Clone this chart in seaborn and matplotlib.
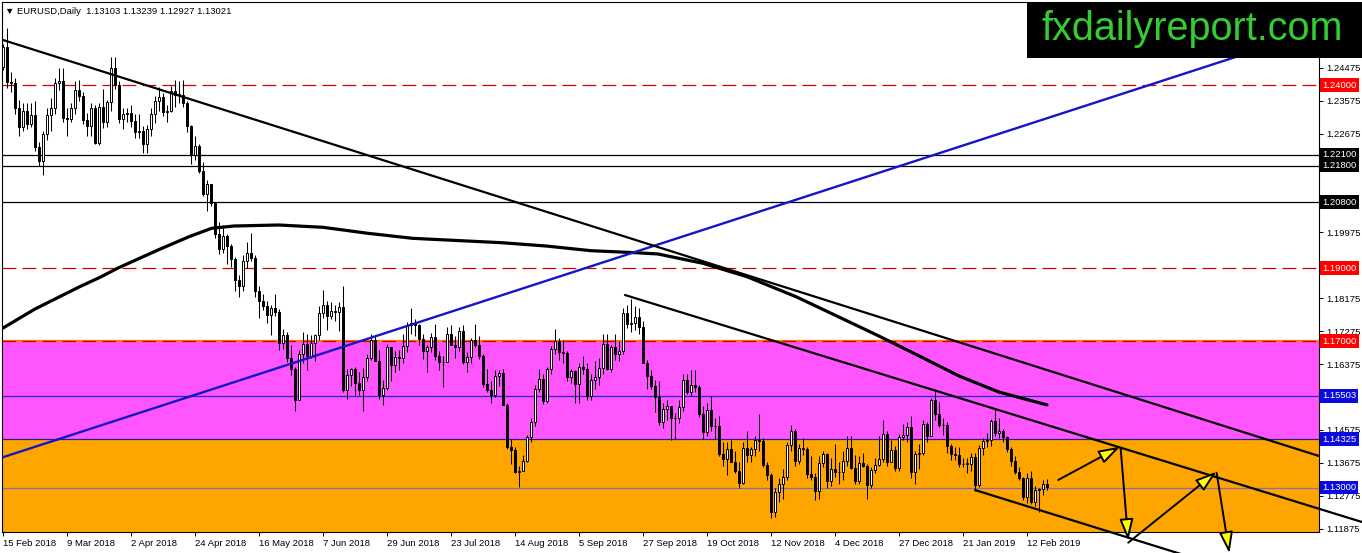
import numpy as np
import matplotlib
matplotlib.use("Agg")
import matplotlib.pyplot as plt
from matplotlib.patches import Rectangle
import matplotlib.transforms as mtransforms
import seaborn as sns

# ---------------- data ----------------
symbol = "EURUSD,Daily"
first_open = 1.2449

close = [
    1.2505, 1.2407, 1.2406, 1.2337, 1.2284, 1.2330, 1.2294, 1.2317, 1.2230, 1.2193,
    1.2267, 1.2318, 1.2337, 1.2405, 1.2410, 1.2311, 1.2306, 1.2336, 1.2387, 1.2370,
    1.2304, 1.2288, 1.2336, 1.2241, 1.2340, 1.2300, 1.2353, 1.2446, 1.2400, 1.2308,
    1.2320, 1.2323, 1.2301, 1.2272, 1.2275, 1.2239, 1.2280, 1.2320, 1.2357, 1.2368,
    1.2326, 1.2330, 1.2383, 1.2373, 1.2373, 1.2350, 1.2287, 1.2210, 1.2232, 1.2165,
    1.2103, 1.2130, 1.2078, 1.1992, 1.1951, 1.1988, 1.1960, 1.1924, 1.1866, 1.1851,
    1.1918, 1.1942, 1.1926, 1.1836, 1.1810, 1.1795, 1.1771, 1.1792, 1.1781, 1.1695,
    1.1718, 1.1653, 1.1623, 1.1539, 1.1665, 1.1693, 1.1659, 1.1696, 1.1717, 1.1776,
    1.1799, 1.1768, 1.1782, 1.1779, 1.1793, 1.1568, 1.1609, 1.1624, 1.1587, 1.1568,
    1.1601, 1.1655, 1.1702, 1.1646, 1.1553, 1.1571, 1.1684, 1.1634, 1.1656, 1.1654,
    1.1687, 1.1744, 1.1749, 1.1743, 1.1706, 1.1672, 1.1684, 1.1711, 1.1660, 1.1642,
    1.1643, 1.1719, 1.1690, 1.1684, 1.1728, 1.1642, 1.1656, 1.1703, 1.1690, 1.1660,
    1.1583, 1.1566, 1.1553, 1.1606, 1.1612, 1.1526, 1.1412, 1.1404, 1.1343, 1.1345,
    1.1374, 1.1438, 1.1478, 1.1570, 1.1597, 1.1537, 1.1623, 1.1679, 1.1700, 1.1671,
    1.1669, 1.1601, 1.1619, 1.1583, 1.1630, 1.1625, 1.1550, 1.1594, 1.1602, 1.1626,
    1.1691, 1.1625, 1.1683, 1.1666, 1.1673, 1.1776, 1.1746, 1.1750, 1.1765, 1.1739,
    1.1640, 1.1605, 1.1577, 1.1547, 1.1478, 1.1515, 1.1524, 1.1490, 1.1489, 1.1520,
    1.1594, 1.1560, 1.1579, 1.1575, 1.1502, 1.1452, 1.1511, 1.1467, 1.1468, 1.1391,
    1.1378, 1.1405, 1.1371, 1.1346, 1.1313, 1.1409, 1.1388, 1.1406, 1.1431, 1.1428,
    1.1362, 1.1335, 1.1233, 1.1289, 1.1310, 1.1330, 1.1416, 1.1455, 1.1372, 1.1409,
    1.1405, 1.1337, 1.1328, 1.1290, 1.1368, 1.1392, 1.1317, 1.1350, 1.1342, 1.1343,
    1.1374, 1.1407, 1.1353, 1.1317, 1.1368, 1.1360, 1.1306, 1.1348, 1.1361, 1.1377,
    1.1446, 1.1370, 1.1403, 1.1353, 1.1437, 1.1443, 1.1466, 1.1343, 1.1392, 1.1395,
    1.1475, 1.1441, 1.1540, 1.1500, 1.1470, 1.1470, 1.1413, 1.1392, 1.1390, 1.1364,
    1.1365, 1.1365, 1.1383, 1.1306, 1.1407, 1.1427, 1.1430, 1.1483, 1.1448, 1.1455,
    1.1437, 1.1405, 1.1373, 1.1342, 1.1326, 1.1275, 1.1325, 1.1262, 1.1294, 1.1295,
    1.13103, 1.13021,
]

high = [
    1.2513, 1.2555, 1.2435, 1.2418, 1.2360, 1.2350, 1.2352, 1.2350, 1.2355, 1.2245,
    1.2273, 1.2336, 1.2365, 1.2420, 1.2446, 1.2446, 1.2336, 1.2350, 1.2410, 1.2413,
    1.2380, 1.2324, 1.2352, 1.2345, 1.2350, 1.2388, 1.2359, 1.2476, 1.2476, 1.2412,
    1.2338, 1.2336, 1.2345, 1.2322, 1.2321, 1.2288, 1.2292, 1.2337, 1.2370, 1.2395,
    1.2377, 1.2345, 1.2396, 1.2414, 1.2410, 1.2414, 1.2357, 1.2292, 1.2260, 1.2240,
    1.2190, 1.2140, 1.2130, 1.2080, 1.2025, 1.2018, 1.1993, 1.1965, 1.1930, 1.1880,
    1.1935, 1.1970, 1.1997, 1.1935, 1.1850, 1.1830, 1.1810, 1.1798, 1.1830, 1.1787,
    1.1734, 1.1724, 1.1690, 1.1630, 1.1675, 1.1724, 1.1720, 1.1717, 1.1720, 1.1796,
    1.1840, 1.1810, 1.1806, 1.1800, 1.1806, 1.1852, 1.1625, 1.1626, 1.1630, 1.1615,
    1.1628, 1.1666, 1.1719, 1.1717, 1.1677, 1.1595, 1.1692, 1.1677, 1.1673, 1.1676,
    1.1720, 1.1753, 1.1791, 1.1760, 1.1746, 1.1719, 1.1690, 1.1722, 1.1746, 1.1672,
    1.1660, 1.1740, 1.1745, 1.1715, 1.1738, 1.1745, 1.1670, 1.1710, 1.1747, 1.1715,
    1.1666, 1.1625, 1.1590, 1.1620, 1.1620, 1.1625, 1.1530, 1.1432, 1.1410, 1.1360,
    1.1390, 1.1445, 1.1490, 1.1580, 1.1623, 1.1610, 1.1630, 1.1688, 1.1733, 1.1709,
    1.1702, 1.1674, 1.1625, 1.1620, 1.1640, 1.1660, 1.1640, 1.1610, 1.1645, 1.1655,
    1.1720, 1.1720, 1.1690, 1.1720, 1.1700, 1.1790, 1.1800, 1.1815, 1.1795, 1.1790,
    1.1754, 1.1650, 1.1622, 1.1595, 1.1590, 1.1530, 1.1540, 1.1510, 1.1505, 1.1540,
    1.1610, 1.1610, 1.1620, 1.1620, 1.1580, 1.1522, 1.1530, 1.1550, 1.1490, 1.1495,
    1.1425, 1.1425, 1.1430, 1.1400, 1.1370, 1.1425, 1.1455, 1.1410, 1.1440, 1.1500,
    1.1435, 1.1370, 1.1340, 1.1300, 1.1325, 1.1350, 1.1425, 1.1470, 1.1460, 1.1420,
    1.1435, 1.1410, 1.1385, 1.1340, 1.1385, 1.1400, 1.1395, 1.1380, 1.1420, 1.1370,
    1.1400, 1.1440, 1.1440, 1.1390, 1.1385, 1.1395, 1.1365, 1.1355, 1.1380, 1.1440,
    1.1485, 1.1455, 1.1430, 1.1415, 1.1447, 1.1475, 1.1480, 1.1497, 1.1400, 1.1420,
    1.1485, 1.1480, 1.1545, 1.1570, 1.1535, 1.1490, 1.1480, 1.1420, 1.1410, 1.1410,
    1.1380, 1.1380, 1.1395, 1.1395, 1.1417, 1.1435, 1.1450, 1.1488, 1.1514, 1.1490,
    1.1460, 1.1440, 1.1410, 1.1385, 1.1355, 1.1330, 1.1340, 1.1345, 1.1305, 1.1300,
    1.1320, 1.13239,
]

low = [
    1.2440, 1.2392, 1.2380, 1.2320, 1.2260, 1.2275, 1.2281, 1.2286, 1.2220, 1.2178,
    1.2155, 1.2250, 1.2273, 1.2320, 1.2385, 1.2300, 1.2260, 1.2300, 1.2320, 1.2356,
    1.2294, 1.2260, 1.2260, 1.2238, 1.2236, 1.2283, 1.2285, 1.2330, 1.2388, 1.2296,
    1.2280, 1.2300, 1.2285, 1.2254, 1.2255, 1.2215, 1.2213, 1.2260, 1.2295, 1.2330,
    1.2314, 1.2300, 1.2325, 1.2340, 1.2352, 1.2340, 1.2272, 1.2183, 1.2194, 1.2160,
    1.2096, 1.2055, 1.2070, 1.1983, 1.1938, 1.1941, 1.1910, 1.1902, 1.1838, 1.1822,
    1.1838, 1.1900, 1.1920, 1.1820, 1.1763, 1.1785, 1.1750, 1.1717, 1.1770, 1.1676,
    1.1680, 1.1644, 1.1608, 1.1510, 1.1538, 1.1640, 1.1620, 1.1655, 1.1645, 1.1703,
    1.1763, 1.1730, 1.1760, 1.1755, 1.1727, 1.1562, 1.1542, 1.1577, 1.1553, 1.1552,
    1.1509, 1.1590, 1.1648, 1.1646, 1.1543, 1.1526, 1.1566, 1.1590, 1.1615, 1.1620,
    1.1640, 1.1670, 1.1720, 1.1715, 1.1690, 1.1652, 1.1615, 1.1670, 1.1648, 1.1621,
    1.1575, 1.1643, 1.1690, 1.1655, 1.1673, 1.1637, 1.1615, 1.1640, 1.1684, 1.1652,
    1.1576, 1.1562, 1.1530, 1.1548, 1.1578, 1.1525, 1.1405, 1.1365, 1.1340, 1.1301,
    1.1345, 1.1371, 1.1425, 1.1468, 1.1560, 1.1528, 1.1530, 1.1610, 1.1665, 1.1650,
    1.1640, 1.1590, 1.1585, 1.1530, 1.1532, 1.1610, 1.1540, 1.1540, 1.1570, 1.1580,
    1.1610, 1.1620, 1.1615, 1.1650, 1.1645, 1.1665, 1.1735, 1.1725, 1.1730, 1.1720,
    1.1640, 1.1570, 1.1570, 1.1506, 1.1472, 1.1464, 1.1485, 1.1430, 1.1432, 1.1476,
    1.1510, 1.1555, 1.1550, 1.1560, 1.1494, 1.1432, 1.1440, 1.1456, 1.1432, 1.1387,
    1.1360, 1.1335, 1.1370, 1.1340, 1.1300, 1.1310, 1.1370, 1.1370, 1.1385, 1.1400,
    1.1355, 1.1320, 1.1216, 1.1220, 1.1260, 1.1270, 1.1320, 1.1400, 1.1360, 1.1365,
    1.1390, 1.1325, 1.1320, 1.1267, 1.1270, 1.1355, 1.1300, 1.1305, 1.1330, 1.1310,
    1.1320, 1.1360, 1.1350, 1.1310, 1.1310, 1.1355, 1.1270, 1.1300, 1.1340, 1.1360,
    1.1370, 1.1360, 1.1370, 1.1345, 1.1345, 1.1430, 1.1425, 1.1325, 1.1310, 1.1350,
    1.1390, 1.1425, 1.1440, 1.1485, 1.1465, 1.1445, 1.1395, 1.1375, 1.1375, 1.1355,
    1.1355, 1.1340, 1.1345, 1.1290, 1.1303, 1.1390, 1.1410, 1.1415, 1.1440, 1.1435,
    1.1425, 1.1397, 1.1360, 1.1338, 1.1320, 1.1265, 1.1258, 1.1255, 1.1250, 1.1234,
    1.1280, 1.12927,
]

# 200-day moving average read at bar positions
ma_bar = [0, 8, 19, 24.25, 28.75, 38.75, 46.5, 52.15, 57.75, 68.9, 80, 91.25, 102.4,
          124.75, 135.75, 147, 158.25, 163.75, 175, 186, 198.25, 209, 219, 229, 239,
          249, 261]
ma_val = [1.1736, 1.1788, 1.1848, 1.18746, 1.19000, 1.19492, 1.19855, 1.20085, 1.20148,
          1.20175, 1.20112, 1.19948, 1.19811, 1.19691, 1.19601, 1.19473, 1.19418,
          1.19383, 1.19128, 1.18762, 1.18216, 1.1766, 1.1714, 1.1660, 1.1605, 1.1561,
          1.1526]

date_labels = ["15 Feb 2018", "9 Mar 2018", "2 Apr 2018", "24 Apr 2018", "16 May 2018",
               "7 Jun 2018", "29 Jun 2018", "23 Jul 2018", "14 Aug 2018", "5 Sep 2018",
               "27 Sep 2018", "19 Oct 2018", "12 Nov 2018", "4 Dec 2018", "27 Dec 2018",
               "21 Jan 2019", "12 Feb 2019"]
bars_per_label = 16

price_ticks = [1.11875, 1.12775, 1.13675, 1.14575, 1.15475, 1.16375, 1.17275, 1.18175,
               1.19075, 1.19975, 1.20875, 1.21775, 1.22675, 1.23575, 1.24475]
hidden_ticks = [1.15475, 1.19075, 1.20875, 1.21775]   # covered by level boxes

# horizontal levels
red_levels = [1.24000, 1.19000, 1.17000]
black_levels = [1.22100, 1.21800, 1.20800]
blue_levels = [1.15503, 1.14325, 1.13000]

zone_magenta = (1.14325, 1.17000)
zone_orange_top = 1.14325

# trend lines (bar index, price)
long_down = [(0, 1.25230), (329, 1.13863)]
blue_up = [(0, 1.13831), (329, 1.25505)]
channel_top = [(155.5, 1.18262), (339.75, 1.12060)]
channel_bottom = [(243, 1.12934), (300, 1.10998)]

# projected path arrows (start bar, start price, end bar, end price)
arrows = [
    (263.8, 1.13208, 279.25, 1.14118),
    (279.4, 1.14090, 281.3, 1.11557),
    (281.3, 1.11495, 303.4, 1.13435),
    (303.4, 1.13407, 306.6, 1.11205),
]

# ---------------- figure ----------------
sns.set_theme(style="white")
plt.rcParams['font.family'] = ['Liberation Sans', 'DejaVu Sans']

W, H = 1362, 553
fig = plt.figure(figsize=(W / 100, H / 100), dpi=100)
fig.patch.set_facecolor('white')
ax = fig.add_axes([2 / W, (H - 532) / H, (1319 - 2) / W, (532 - 2) / H])
ax.set_facecolor('white')

YMIN, YMAX = 1.11787, 1.26268
ax.set_xlim(-0.25, 329)
ax.set_ylim(YMIN, YMAX)

# zones
ax.axhspan(zone_magenta[0], zone_magenta[1], color='#FF55FF', lw=0, zorder=0)
ax.axhspan(YMIN - 0.01, zone_orange_top, color='#FFA500', lw=0, zorder=0)

# level lines
for p in black_levels:
    ax.axhline(p, color='black', lw=0.9, zorder=1)
ax.axhline(blue_levels[0], color='#2424D8', lw=0.9, zorder=1)
ax.axhline(blue_levels[1], color='#23238F', lw=0.9, zorder=1)
ax.axhline(blue_levels[2], color='#8070B8', lw=0.9, zorder=1)
ax.axhline(red_levels[2], color='#FF7A00', lw=1.6, zorder=1)
for p in red_levels:
    ax.axhline(p, color='#D40000', lw=0.9, dashes=(11, 5), zorder=1.2)

# candles
c = np.array(close)
o = np.array([first_open] + close[:-1])
hi = np.maximum(np.array(high), np.maximum(o, c))
lo = np.minimum(np.array(low), np.minimum(o, c))
idx = np.arange(len(c))
up = c >= o
ax.vlines(idx, lo, hi, color='black', lw=0.75, zorder=3)
bottom = np.minimum(o, c)
height = np.maximum(np.abs(c - o), 0.00012)
ax.bar(idx[up], height[up], bottom=bottom[up], width=0.55, color='white',
       edgecolor='black', linewidth=0.7, zorder=4)
ax.bar(idx[~up], height[~up], bottom=bottom[~up], width=0.55, color='black',
       edgecolor='black', linewidth=0.7, zorder=4)

# moving average
sns.lineplot(x=ma_bar, y=ma_val, ax=ax, color='black', lw=2.3, sort=False,
             estimator=None, zorder=5)

# trend lines
ax.plot([p[0] for p in blue_up], [p[1] for p in blue_up], color='#1515C8', lw=1.7, zorder=5)
ax.plot([p[0] for p in long_down], [p[1] for p in long_down], color='black', lw=1.6, zorder=5)
ax.plot([p[0] for p in channel_top], [p[1] for p in channel_top], color='black', lw=1.6,
        zorder=5, clip_on=False)
ax.plot([p[0] for p in channel_bottom], [p[1] for p in channel_bottom], color='black', lw=1.6,
        zorder=5, clip_on=False)

# arrows
for x0, y0, x1, y1 in arrows:
    ax.annotate('', xy=(x1, y1), xytext=(x0, y0), annotation_clip=False, zorder=7,
                arrowprops=dict(arrowstyle='-|>,head_length=1.3,head_width=0.42',
                                mutation_scale=10, fc='#FFFF00', ec='black', lw=1.4,
                                shrinkA=0, shrinkB=0, clip_on=False))

# axes styling
for s in ax.spines.values():
    s.set_color('black')
    s.set_linewidth(0.8)
ax.grid(False)
ax.yaxis.tick_right()
ax.set_yticks(price_ticks)
ax.set_yticklabels(["" if t in hidden_ticks else f"{t:.5f}" for t in price_ticks])
ax.set_xticks([i * bars_per_label for i in range(len(date_labels))])
ax.set_xticklabels(date_labels, ha='left')
ax.tick_params(axis='y', direction='out', length=3, width=0.7, labelsize=6.8, pad=2,
               colors='black', left=False, right=True)
ax.tick_params(axis='x', direction='out', length=3, width=0.7, labelsize=6.8, pad=2,
               colors='black', bottom=True)
ax.set_xlabel('')
ax.set_ylabel('')

# price labels for levels
trans = mtransforms.blended_transform_factory(ax.transAxes, ax.transData)
def level_label(p, bg):
    ax.text(1.0 + 3 / 1317, p, f"{p:.5f}", transform=trans, fontsize=6.8, color='white',
            va='center', ha='left', zorder=8, clip_on=False,
            bbox=dict(boxstyle='square,pad=0.25', fc=bg, ec='none'))
for p in red_levels:
    level_label(p, '#FF0000')
for p in black_levels:
    level_label(p, 'black')
for p in blue_levels:
    level_label(p, '#0A0AE0')

# header
fig.text(5 / W, 1 - 11 / H, "\u25BC " + symbol + "  " +
         " ".join(f"{v:.5f}" for v in (o[-1], hi[-1], lo[-1], c[-1])),
         fontsize=6.8, color='black', va='center', ha='left', zorder=12)

# logo box
fig.add_artist(Rectangle((1027 / W, (H - 58) / H), 340 / W, 56 / H,
                         transform=fig.transFigure, facecolor='black',
                         edgecolor='none', zorder=10))
fig.text(1042 / W, (H - 40) / H, "fxdailyreport.com", fontsize=28.5, color='#33CC33',
         va='baseline', ha='left', zorder=11, family='Liberation Sans')

fig.savefig('out.png', dpi=100)
